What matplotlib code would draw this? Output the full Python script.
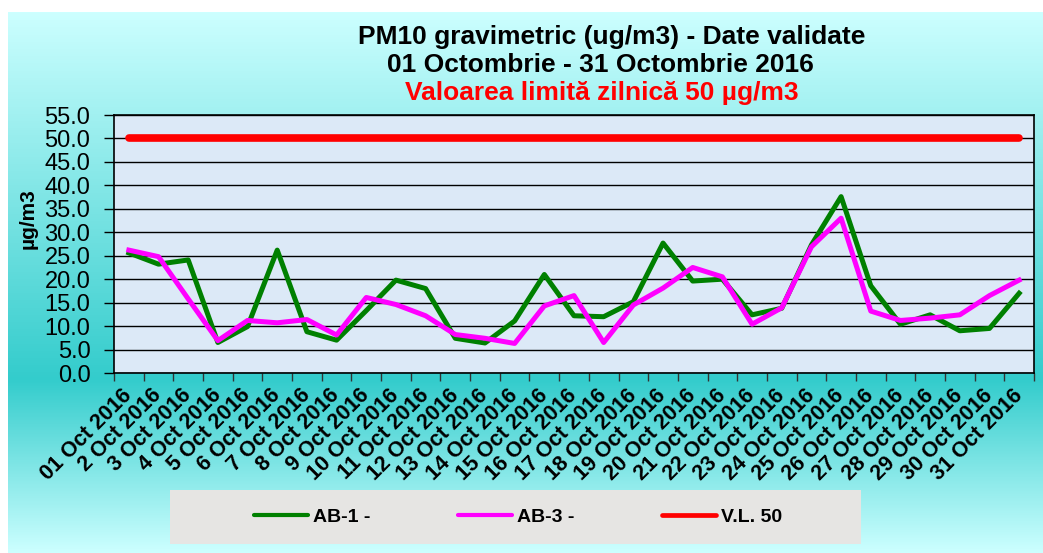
import matplotlib
matplotlib.use('Agg')
import matplotlib.pyplot as plt
import numpy as np
from matplotlib.colors import LinearSegmentedColormap
from matplotlib.patches import Rectangle

# data
days = ['01 Oct 2016'] + [f'{d} Oct 2016' for d in range(2, 32)]
ab1 = [25.6, 23.2, 24.1, 6.5, 9.9, 26.2, 8.8, 7.0, 13.3, 19.8, 18.0,
       7.4, 6.4, 11.1, 21.0, 12.2, 12.0, 15.2, 27.7, 19.6, 20.0,
       12.4, 13.8, 27.3, 37.6, 18.6, 10.4, 12.4, 9.0, 9.5, 17.0]
ab3 = [26.2, 24.8, 15.8, 6.9, 11.2, 10.7, 11.4, 8.1, 16.1, 14.6, 12.2,
       8.2, 7.4, 6.3, 14.3, 16.5, 6.5, 14.5, 18.1, 22.5, 20.5,
       10.4, 13.9, 26.9, 33.0, 13.2, 11.2, 11.7, 12.4, 16.5, 19.8]
limit = [50.0] * len(days)
yticks = np.arange(0, 55.1, 5)

W, H = 1043, 553
fig = plt.figure(figsize=(W / 100, H / 100), dpi=100, facecolor='white')
FONT = 'Liberation Sans'

# gradient background of the chart area
bg = fig.add_axes([8 / W, 0, 1 - 8 / W, 1 - 12 / H], zorder=-10)
cmap = LinearSegmentedColormap.from_list(
    'bg', [(0, '#ccffff'), (0.68, '#33cccc'), (1, '#ccffff')])
grad = np.linspace(0, 1, 256).reshape(-1, 1)
bg.imshow(grad, aspect='auto', cmap=cmap, extent=[0, 1, 1, 0])
bg.axis('off')

# plot area
ax = fig.add_axes([114 / W, 1 - 373 / H, (1034 - 114) / W, (373 - 115) / H])
ax.set_facecolor('#dce9f7')
x = np.arange(len(days))
ax.plot(x, limit, color='#ff0000', lw=5.5, solid_capstyle='round', label='V.L. 50', zorder=3)
ax.plot(x, ab1, color='#008000', lw=3.6, label='AB-1 -', zorder=4)
ax.plot(x, ab3, color='#ff00ff', lw=3.6, label='AB-3 -', zorder=5)

ax.set_xlim(-0.5, len(days) - 0.5)
ax.set_ylim(0, 55)
ax.set_yticks(yticks)
ax.set_yticklabels([f'{v:.1f}' for v in yticks], fontsize=17, family=FONT)
ax.grid(axis='y', color='black', lw=1)
ax.set_axisbelow(True)
ax.tick_params(axis='y', direction='out', length=7, width=1, pad=10)

ax.set_xticks(x)
ax.set_xticklabels(days, rotation=45, ha='right', va='center', rotation_mode='anchor',
                   fontsize=15.5, fontweight='bold', family=FONT)
ax.tick_params(axis='x', which='major', length=0, pad=14)
ax.set_xticks(np.arange(-0.5, len(days), 1), minor=True)
ax.tick_params(axis='x', which='minor', direction='out', length=6, width=1, color='#333333')
for s in ax.spines.values():
    s.set_color('black')
    s.set_linewidth(1.2)

ax.set_ylabel('µg/m3', fontsize=15, fontweight='bold', family=FONT)
ax.yaxis.set_label_coords(-0.083, 0.60)

# titles
fig.text(612 / W, 1 - 37 / H, 'PM10 gravimetric (ug/m3) - Date validate', ha='center', va='center',
         fontsize=19, fontweight='bold', family=FONT)
fig.text(600 / W, 1 - 65 / H, '01 Octombrie - 31 Octombrie 2016', ha='center', va='center',
         fontsize=19, fontweight='bold', family=FONT)
fig.text(602 / W, 1 - 93 / H, 'Valoarea limită zilnică 50 µg/m3', ha='center', va='center',
         fontsize=19, fontweight='bold', family=FONT, color='#ff0000')

# legend: grey box + entries
fig.add_artist(Rectangle((170 / W, 1 - 544 / H), (861 - 170) / W, 54 / H,
                         transform=fig.transFigure, facecolor='#e6e5e3', edgecolor='none', zorder=1))
h, l = ax.get_legend_handles_labels()
order = [1, 2, 0]
leg = fig.legend([h[i] for i in order], [l[i] for i in order], ncol=3, loc='center left',
                 bbox_to_anchor=(254 / W, 1 - 517 / H), frameon=False, borderpad=0, borderaxespad=0,
                 handlelength=2.78, columnspacing=4.5, handletextpad=0.26,
                 prop={'family': FONT, 'weight': 'bold', 'size': 14})
leg.set_zorder(2)
for ln, w in zip(leg.get_lines(), [3, 3, 3.4]):
    ln.set_linewidth(w)
    ln.set_solid_capstyle('round')

fig.savefig('out.png', dpi=100, facecolor='white')
